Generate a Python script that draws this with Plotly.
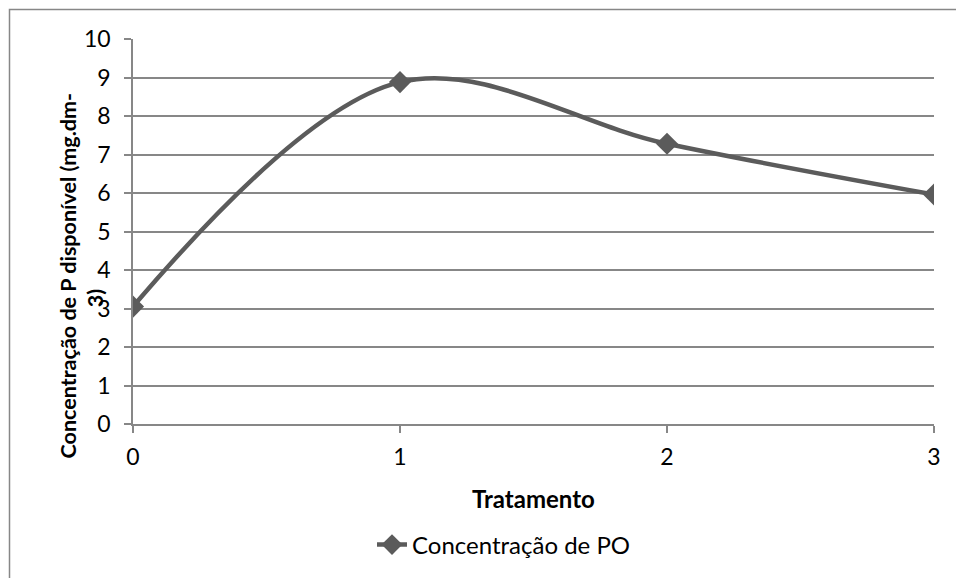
import plotly.graph_objects as go

tratamento = [0, 1, 2, 3]
concentracao = [3.05, 8.88, 7.28, 5.96]
y_ticks = [0, 1, 2, 3, 4, 5, 6, 7, 8, 9, 10]
x_ticks = [0, 1, 2, 3]

W, H = 956, 578
L, R, T, B = 133, 934, 39, 425
pw, ph = R - L, B - T

def px(x):
    return (x - L) / pw

def py(y):
    return (B - y) / ph

FONT = "Lato"
GRID = "#878787"
LINE = "#5b5b5b"

fig = go.Figure()
fig.add_trace(go.Scatter(
    x=tratamento, y=concentracao, mode="lines+markers",
    name="Concentração de PO",
    line=dict(color=LINE, width=4.5, shape="spline", smoothing=1.0),
    marker=dict(symbol="diamond", size=17, color=LINE),
))

fig.update_layout(
    width=W, height=H,
    margin=dict(l=L, r=W - R, t=T, b=H - B),
    paper_bgcolor="white", plot_bgcolor="white",
    font=dict(family=FONT, size=24, color="#000000"),
    showlegend=True,
    legend=dict(orientation="h", x=px(372), y=py(545), xanchor="left", yanchor="middle",
                font=dict(size=24, family=FONT), bgcolor="rgba(0,0,0,0)"),
    xaxis=dict(range=[0, 3], tickvals=x_ticks, ticktext=[str(v) for v in x_ticks],
               showgrid=False, zeroline=False, showline=True, linecolor=GRID, linewidth=1.5,
               ticks="outside", ticklen=7, tickcolor=GRID, tickwidth=1.5, ticklabelstandoff=5,
               tickfont=dict(size=23, family=FONT), fixedrange=True),
    yaxis=dict(range=[0, 10], tickvals=y_ticks, showgrid=True, gridcolor=GRID, gridwidth=1.5,
               zeroline=False, showline=True, linecolor=GRID, linewidth=1.5,
               ticks="outside", ticklen=7, tickcolor=GRID, tickwidth=1.5, ticklabelstandoff=9,
               tickfont=dict(size=23, family=FONT), fixedrange=True),
    annotations=[
        dict(text="<b>Tratamento</b>", xref="paper", yref="paper", x=px(533), y=py(500),
             showarrow=False, xanchor="center", yanchor="middle", font=dict(size=24, family=FONT)),
        dict(text="<b>Concentração de P disponível (mg.dm-</b>", xref="paper", yref="paper",
             x=px(68), y=py(277), textangle=-90, showarrow=False, xanchor="center", yanchor="middle",
             font=dict(size=21.5, family=FONT)),
        dict(text="<b>3)</b>", xref="paper", yref="paper",
             x=px(95), y=py(299), textangle=-90, showarrow=False, xanchor="center", yanchor="middle",
             font=dict(size=21.5, family=FONT)),
    ],
    shapes=[
        dict(type="rect", xref="paper", yref="paper", x0=px(9.5), x1=px(962), y0=py(9.5), y1=py(590),
             line=dict(color=GRID, width=1.5), fillcolor="rgba(0,0,0,0)", layer="below"),
    ],
)

fig.write_html("out.html", config={"displayModeBar": False},
               post_script="document.body.style.margin='0px';")
